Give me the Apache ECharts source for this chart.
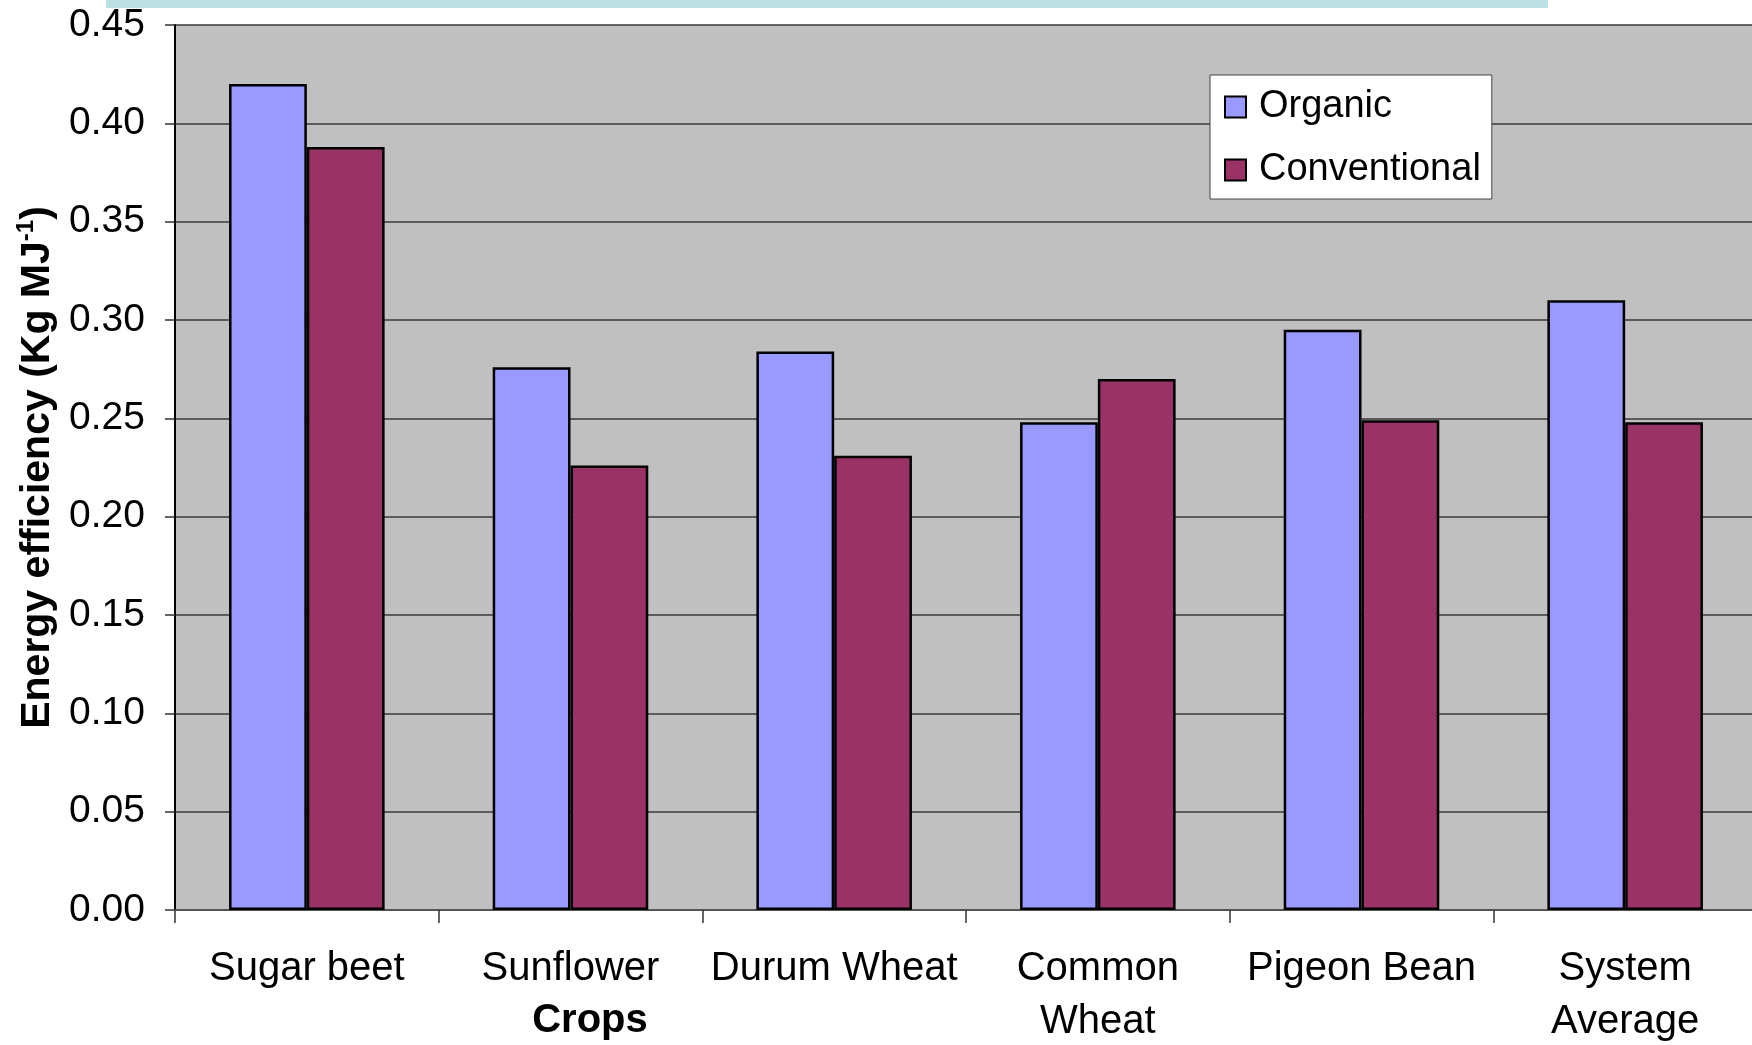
<!DOCTYPE html>
<html>
<head>
<meta charset="utf-8">
<title>Energy efficiency by crop</title>
<script src="https://cdn.jsdelivr.net/npm/echarts@6/dist/echarts.min.js"></script>
<style>
  html, body { margin: 0; padding: 0; background: #ffffff; }
  #chart { width: 1752px; height: 1045px; }
</style>
</head>
<body>
<div id="chart"></div>
<script>
// Crop categories and energy efficiency (kg per MJ) for each farming system
const crops = ['Sugar beet', 'Sunflower', 'Durum Wheat', 'Common\nWheat', 'Pigeon Bean', 'System\nAverage'];
const organic = [0.420, 0.276, 0.284, 0.248, 0.295, 0.310];
const conventional = [0.388, 0.226, 0.231, 0.270, 0.249, 0.248];
const yTicks = { min: 0, max: 0.45, step: 0.05 };

const FONT = "'Liberation Sans', Arial, sans-serif";

const chart = echarts.init(document.getElementById('chart'), null, { renderer: 'canvas' });

chart.setOption({
  animation: false,
  backgroundColor: '#ffffff',
  textStyle: { fontFamily: FONT },
  grid: {
    left: 175, right: -5, top: 25, bottom: 135,
    outerBoundsMode: 'none',
    containLabel: false,
    show: true, backgroundColor: '#C0C0C0', borderWidth: 0
  },
  graphic: [
    {
      type: 'rect', z: 0,
      shape: { x: 106, y: 0, width: 1442, height: 8 },
      style: { fill: '#BCE0E3' }
    },
    {
      type: 'text', z: 10,
      x: 590, y: 1021,
      style: {
        text: 'Crops', fill: '#000',
        font: "bold 40px 'Liberation Sans', Arial, sans-serif",
        align: 'center', verticalAlign: 'middle'
      }
    }
  ],
  legend: {
    orient: 'vertical',
    left: 1210, top: 75,
    backgroundColor: '#ffffff',
    borderColor: '#444', borderWidth: 1, borderRadius: 0,
    padding: [12, 11, 9, 14],
    itemGap: 23,
    itemWidth: 21, itemHeight: 21,
    icon: 'rect',
    itemStyle: { borderColor: '#000', borderWidth: 2 },
    textStyle: { fontSize: 38, color: '#000', fontFamily: FONT, lineHeight: 40, padding: [0, 0, 0, 8] },
    data: ['Organic', 'Conventional']
  },
  xAxis: {
    type: 'category',
    data: crops,
    axisLine: { show: true, lineStyle: { color: '#555', width: 2 } },
    axisTick: { show: true, length: 13, lineStyle: { color: '#333', width: 1.5 } },
    axisLabel: {
      color: '#000', fontSize: 40, fontFamily: FONT,
      lineHeight: 53, margin: 32, interval: 0
    },
    splitLine: { show: false }
  },
  yAxis: {
    type: 'value',
    min: yTicks.min, max: yTicks.max, interval: yTicks.step,
    name: '{t|Energy efficiency (Kg MJ}{s|-1}{t|)}',
    nameLocation: 'middle',
    nameRotate: 90,
    nameGap: 112,
    nameTextStyle: {
      rich: {
        t: { fontSize: 41, fontWeight: 'bold', fontFamily: FONT, color: '#000', lineHeight: 46 },
        s: { fontSize: 24, fontWeight: 'bold', fontFamily: FONT, color: '#000', verticalAlign: 'top' }
      }
    },
    axisLine: { show: true, lineStyle: { color: '#000', width: 2 } },
    axisTick: { show: true, length: 10, lineStyle: { color: '#333', width: 1.5 } },
    axisLabel: {
      color: '#000', fontSize: 39, fontFamily: FONT, margin: 30,
      formatter: v => v.toFixed(2)
    },
    splitLine: { show: true, lineStyle: { color: '#3a3a3a', width: 1.5 } }
  },
  series: [
    {
      name: 'Organic', type: 'bar', data: organic,
      barGap: '0%', barCategoryGap: '41%',
      itemStyle: { color: '#9999FF', borderColor: '#000', borderWidth: 2.5 }
    },
    {
      name: 'Conventional', type: 'bar', data: conventional,
      barGap: '0%', barCategoryGap: '41%',
      itemStyle: { color: '#993366', borderColor: '#000', borderWidth: 2.5 }
    }
  ]
});
</script>
</body>
</html>
